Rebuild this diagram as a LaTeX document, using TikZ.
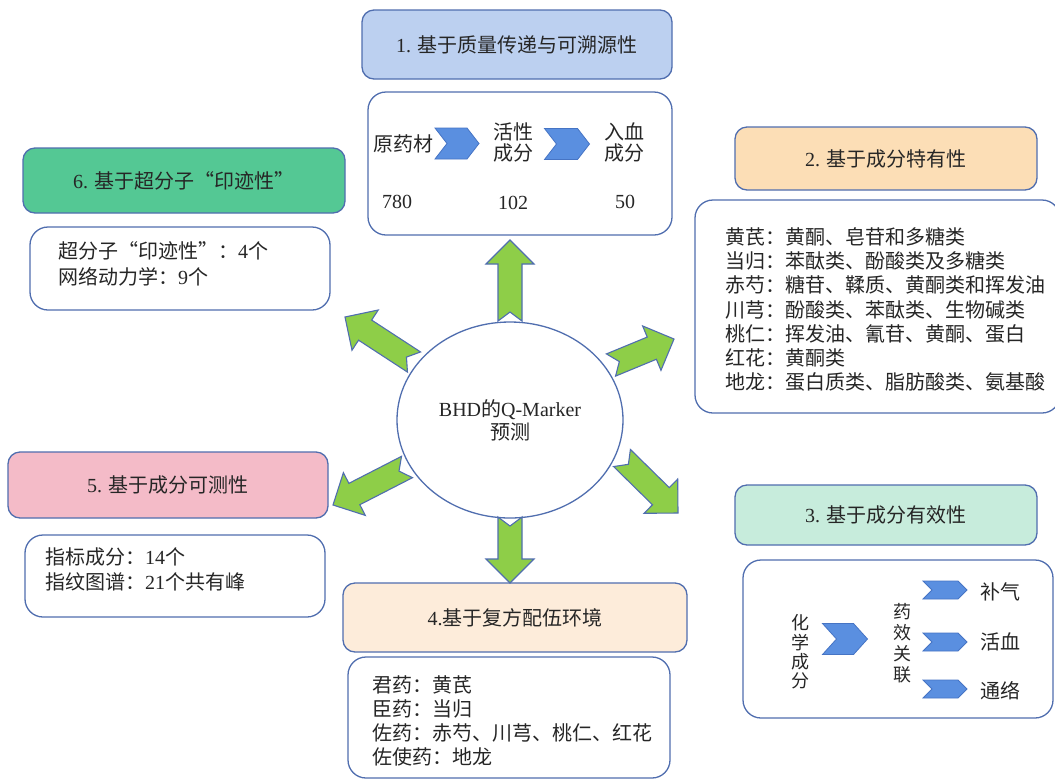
\documentclass[tikz,border=0pt]{standalone}
\usepackage{fontspec}
\setmainfont{Noto Sans CJK SC}
\newfontfamily\latin{Liberation Serif}
\usetikzlibrary{calc,shapes.geometric}
\newcommand{\tn}[1]{{\latin #1}}
\definecolor{bord}{RGB}{80,110,175}
\definecolor{agreen}{RGB}{142,206,72}
\definecolor{chevfill}{RGB}{90,143,224}
\definecolor{chevbord}{RGB}{70,116,196}
\definecolor{fillA}{RGB}{188,208,240}
\definecolor{fillB}{RGB}{252,222,182}
\definecolor{fillC}{RGB}{199,236,220}
\definecolor{fillD}{RGB}{253,236,218}
\definecolor{fillE}{RGB}{244,187,200}
\definecolor{fillF}{RGB}{84,200,148}
\tikzset{
  titlebox/.style={draw=bord, line width=1.3pt, rounded corners=12pt, inner sep=0pt,
    font=\fontsize{20}{24}\selectfont, text=black!85},
  contbox/.style={draw=bord, line width=1.3pt, rounded corners=18pt, fill=white, inner sep=0pt},
  txt/.style={inner sep=0pt, align=left, text=black!85},
  garr/.style={draw=bord, line width=1.1pt, fill=agreen, line join=miter},
  chevs/.style={draw=chevbord, line width=0.8pt, fill=chevfill},
}
\newcommand{\garrow}[3]{%
  \coordinate (#3m) at ($(#2)!24pt!(#1)$);
  \draw[garr] ($(#1)!12pt!90:(#2)$) -- ($(#3m)!12pt!90:(#2)$) -- ($(#3m)!24pt!90:(#2)$)
    -- (#2) -- ($(#3m)!24pt!-90:(#2)$) -- ($(#3m)!12pt!-90:(#2)$)
    -- ($(#1)!12pt!-90:(#2)$) -- ($(#1)!9pt!(#2)$) -- cycle;}
\newcommand{\chev}[5]{%
  \draw[chevs] ({#1-#3/2},{#2-#4/2}) -- ({#1+#3/2-#5},{#2-#4/2}) -- ({#1+#3/2},{#2})
    -- ({#1+#3/2-#5},{#2+#4/2}) -- ({#1-#3/2},{#2+#4/2}) -- ({#1-#3/2+#5},{#2}) -- cycle;}
\begin{document}
\begin{tikzpicture}[x=1pt, y=-1pt]
\useasboundingbox (0,0) rectangle (1055,780);
\clip (0,0) rectangle (1055,780);
\fill[white] (0,0) rectangle (1055,780);

% ---- title boxes
\node[titlebox, fill=fillA, minimum width=310pt, minimum height=69pt] (t1) at (517,44.5) {\tn{1. }基于质量传递与可溯源性};
\node[titlebox, fill=fillB, minimum width=302pt, minimum height=63pt] (t2) at (886,158.5) {\tn{2. }基于成分特有性};
\node[titlebox, fill=fillC, minimum width=302pt, minimum height=60pt] (t3) at (886,515) {\tn{3. }基于成分有效性};
\node[titlebox, fill=fillD, minimum width=344pt, minimum height=69pt] (t4) at (515,617.5) {\tn{4.}基于复方配伍环境};
\node[titlebox, fill=fillE, minimum width=320pt, minimum height=66pt] (t5) at (168,485) {\tn{5. }基于成分可测性};
\node[titlebox, fill=fillF, minimum width=322pt, minimum height=65pt] (t6) at (184,180.5) {\tn{6. }基于超分子“印迹性”};

% ---- content boxes
\node[contbox, minimum width=304pt, minimum height=143pt] (c1) at (520,163.5) {};
\node[contbox, minimum width=365pt, minimum height=213pt] (c2) at (877.5,306.5) {};
\node[contbox, minimum width=310pt, minimum height=158pt] (c3) at (898,639) {};
\node[contbox, minimum width=322pt, minimum height=121pt] (c4) at (509,717.5) {};
\node[contbox, minimum width=300pt, minimum height=82pt] (c5) at (175,576) {};
\node[contbox, minimum width=300pt, minimum height=83pt] (c6) at (180,268.5) {};

% ---- box 1 content
\begin{scope}[every node/.style={txt, align=center, font=\fontsize{20}{21}\selectfont}]
\node (ym) at (403,144) {原药材};
\node (hx) at (513,142.5) {活性\\成分};
\node (rx) at (624,142.5) {入血\\成分};
\node (n1) at (397,202) {\tn{780}};
\node (n2) at (513,203) {\tn{102}};
\node (n3) at (625,202) {\tn{50}};
\end{scope}
\chev{457}{143.5}{44}{31}{12}
\chev{567}{144}{45}{31}{12}

% ---- box 2 content
\node[txt, anchor=west, font=\fontsize{20}{24.2}\selectfont] (l2) at (725,309.5) {黄芪：黄酮、皂苷和多糖类\\当归：苯酞类、酚酸类及多糖类\\赤芍：糖苷、鞣质、黄酮类和挥发油\\川芎：酚酸类、苯酞类、生物碱类\\桃仁：挥发油、氰苷、黄酮、蛋白\\红花：黄酮类\\地龙：蛋白质类、脂肪酸类、氨基酸};

% ---- box 3 content
\node[txt, align=center, font=\fontsize{18}{19.3}\selectfont] (hxcf) at (800,652) {化\\学\\成\\分};
\chev{845}{639}{45}{31}{14}
\node[txt, align=center, font=\fontsize{18}{21}\selectfont] (yxgl) at (902,643) {药\\效\\关\\联};
\chev{945}{590}{44}{18}{9}
\chev{945}{642}{44}{18}{9}
\chev{945}{689}{44}{18}{9}
\begin{scope}[every node/.style={txt, font=\fontsize{20}{24}\selectfont}]
\node (bq) at (1000,592) {补气};
\node (hxu) at (1000,642) {活血};
\node (tl) at (1000,691) {通络};
\end{scope}

% ---- box 4 content
\node[txt, anchor=west, font=\fontsize{20}{24}\selectfont] (l4) at (372,721) {君药：黄芪\\臣药：当归\\佐药：赤芍、川芎、桃仁、红花\\佐使药：地龙};

% ---- box 5 content
\node[txt, anchor=west, font=\fontsize{20}{25}\selectfont] (l5) at (45,569.5) {指标成分：\tn{14}个\\指纹图谱：\tn{21}个共有峰};

% ---- box 6 content
\node[txt, anchor=west, font=\fontsize{20}{26}\selectfont] (l6) at (58,263.5) {超分子“印迹性”：\tn{4}个\\网络动力学：\tn{9}个};

% ---- centre ellipse
\node[ellipse, draw=bord, line width=1.3pt, fill=white, minimum width=226pt, minimum height=196pt,
  align=center, font=\fontsize{20}{23}\selectfont, text=black!85] (ctr) at (510,420) {\tn{BHD}的\tn{Q-Marker}\\预测};

% ---- arrows
\coordinate (aUt) at (510,321);  \coordinate (aUp) at (510,240);
\coordinate (aULt) at (414,362); \coordinate (aULp) at (345,317);
\coordinate (aURt) at (611,365); \coordinate (aURp) at (674,339);
\coordinate (aLRt) at (622,458); \coordinate (aLRp) at (678,513);
\coordinate (aLLt) at (407,467); \coordinate (aLLp) at (333,505);
\coordinate (aDt) at (510,517);  \coordinate (aDp) at (510,583);
\garrow{aUt}{aUp}{gu}
\garrow{aULt}{aULp}{gul}
\garrow{aURt}{aURp}{gur}
\garrow{aLRt}{aLRp}{glr}
\garrow{aLLt}{aLLp}{gll}
\garrow{aDt}{aDp}{gd}
\end{tikzpicture}
\end{document}
